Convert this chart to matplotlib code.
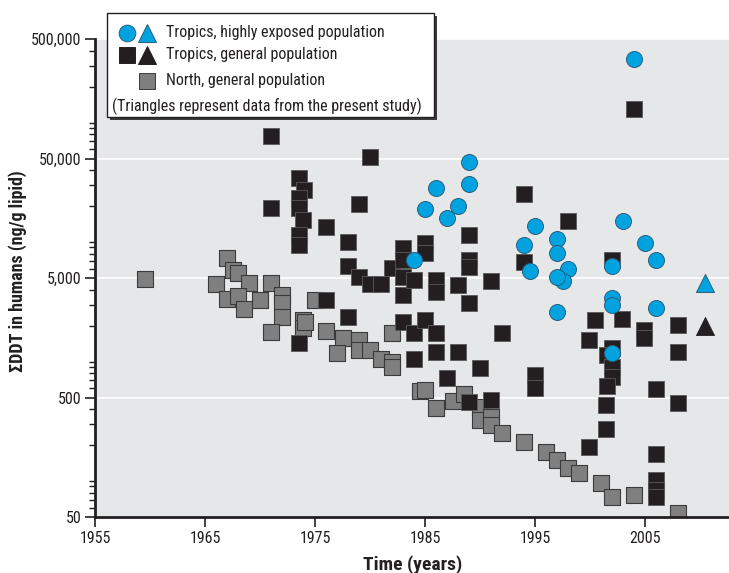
import numpy as np
import matplotlib
matplotlib.use("Agg")
import matplotlib.pyplot as plt
from matplotlib import font_manager
from matplotlib.patches import Rectangle
from matplotlib.ticker import FixedLocator, LogLocator, NullFormatter

# the original uses a condensed face; take one if present, else shrink DejaVu
installed = {f.name for f in font_manager.fontManager.ttflist}
narrow = [n for n in ['Liberation Sans Narrow', 'DejaVu Sans Condensed', 'Roboto Condensed',
                      'Open Sans Condensed'] if n in installed]
if narrow:
    plt.rcParams['font.family'] = [narrow[0], 'DejaVu Sans']
    k = 1.0
else:
    plt.rcParams['font.family'] = ['DejaVu Sans']
    plt.rcParams['font.stretch'] = 'condensed'
    k = 0.8

# Tropics, highly exposed population (circles)
blue_years = [1989.0, 1989.0, 1986.0, 1988.0, 1985.0, 1987.0, 1984.0, 2004.0, 1995.0,
              1994.0, 1997.0, 1997.0, 2003.0, 2005.0, 2006.0, 1994.5, 1998.0, 1997.5,
              1997.0, 2002.0, 2002.0, 2002.0, 1997.0, 2006.0, 2002.0]
blue_vals = [47000, 30400, 28200, 20000, 18800, 16000, 7050, 342000, 13700,
             9440, 10500, 8050, 15000, 9750, 7120, 5740, 5990, 4740,
             5060, 6300, 3420, 2970, 2580, 2790, 1170]

# Tropics, general population (squares)
black_years = [1971.0, 1971.0, 1973.5, 1974.0, 1973.5, 1973.5, 1973.9, 1973.5, 1973.5, 1973.5,
               1980.0, 1979.0, 1976.0, 1978.0, 1978.0, 1979.0, 1980.0, 1981.0, 1982.0, 1983.0,
               1985.0, 1985.0, 1983.0, 1983.0, 1983.0, 1984.0, 1986.0, 1986.0, 1988.0, 1989.0,
               1989.0, 1989.0, 1989.0, 1991.0, 1992.0, 1976.0, 1978.0, 1983.0, 1984.0, 1985.0,
               1986.0, 1984.0, 1986.0, 1988.0, 1990.0, 1987.0, 1989.0, 1991.0, 2004.0, 1994.0,
               1998.0, 1994.0, 2002.0, 2000.4, 2002.9, 2004.9, 2004.9, 2008.0, 1999.9, 2002.0,
               2008.0, 2001.5, 2002.0, 2002.0, 2001.5, 1995.0, 1995.0, 2006.0, 2008.0, 2001.4,
               2001.4, 1999.9, 2006.0, 2006.0, 2006.0, 2006.0]
black_vals = [77100, 19300, 34500, 27200, 23300, 19300, 15300, 11500, 9440, 1430,
              51200, 20700, 13300, 10100, 6300, 5130, 4420, 4420, 6030, 8870,
              9750, 8050, 7080, 5130, 3600, 4810, 4810, 3840, 4370, 11500,
              7080, 6220, 3070, 4700, 1720, 3270, 2370, 2160, 1720, 2230,
              1720, 1050, 1210, 1210, 890, 724, 461, 477, 129800, 25200,
              15000, 6840, 7080, 2230, 2260, 1830, 1560, 2020, 1510, 1290,
              1210, 1130, 905, 746, 624, 771, 597, 590, 453, 433,
              272, 192, 167, 102, 84, 74]

# North, general population (gray squares)
gray_years = [1959.5, 1967.0, 1967.5, 1968.0, 1966.0, 1969.0, 1971.0, 1967.0, 1968.0, 1970.0,
              1968.5, 1972.0, 1972.0, 1972.0, 1971.0, 1973.9, 1973.9, 1975.0, 1974.1, 1976.0,
              1977.5, 1977.0, 1979.0, 1979.0, 1980.0, 1981.0, 1982.0, 1982.0, 1982.0, 1984.5,
              1985.0, 1986.0, 1987.5, 1988.5, 1990.0, 1990.0, 1991.0, 1991.0, 1992.0, 1994.0,
              1996.0, 1997.0, 1998.0, 1999.0, 2001.0, 2002.0, 2004.0, 2008.0]
gray_vals = [4910, 7310, 5830, 5470, 4420, 4520, 4520, 3340, 3550, 3270,
             2730, 3600, 3110, 2370, 1760, 2230, 1910, 3270, 2160, 1790,
             1560, 1170, 1510, 1250, 1250, 1060, 1720, 1000, 905, 570,
             578, 406, 470, 532, 419, 324, 345, 294, 251, 212,
             176, 150, 129, 116, 97, 73, 76, 54]

# present study (triangles)
tri_year = 2010.4
tri_blue_val = 4520
tri_black_val = 1980

y_ticks = [50, 500, 5000, 50000, 500000]
y_ticklabels = ['50', '500', '5,000', '50,000', '500,000']
x_ticks = [1955, 1965, 1975, 1985, 1995, 2005]

BLUE = '#00A3E0'
BLACK = '#231F20'
GRAY = '#7F7F7F'
INK = '#231F20'

W, H = 729, 573
fig = plt.figure(figsize=(W / 100, H / 100), dpi=100)
ax = fig.add_axes([95.3 / W, (H - 517) / H, (W - 95.3) / W, (517 - 39) / H])
ax.set_facecolor('#E6E7E8')

ax.set_yscale('log')
ax.set_xlim(1955, 2012.6)
ax.set_ylim(50, 500000)

for v in y_ticks:
    ax.axhline(v, color='white', lw=1.2, zorder=1)

ax.scatter(gray_years, gray_vals, marker='s', s=12 ** 2, color=GRAY,
           edgecolors='#3a3a3a', linewidths=0.8, zorder=3)
ax.scatter(black_years, black_vals, marker='s', s=12 ** 2, color=BLACK,
           edgecolors='#5a5a5a', linewidths=0.6, zorder=4)
ax.scatter(blue_years, blue_vals, marker='o', s=11.5 ** 2, color=BLUE,
           edgecolors='#2b5f7d', linewidths=0.7, zorder=5)
ax.scatter([tri_year], [tri_blue_val], marker='^', s=13 ** 2, color=BLUE,
           edgecolors='#2b5f7d', linewidths=0.7, zorder=5)
ax.scatter([tri_year], [tri_black_val], marker='^', s=13 ** 2, color=BLACK,
           edgecolors=BLACK, linewidths=0.6, zorder=5)

# axes styling
for side in ['top', 'right']:
    ax.spines[side].set_visible(False)
for side in ['left', 'bottom']:
    ax.spines[side].set_linewidth(2)
    ax.spines[side].set_color(INK)
    ax.spines[side].set_zorder(6)

ax.yaxis.set_major_locator(FixedLocator(y_ticks))
ax.set_yticklabels(y_ticklabels)
ax.yaxis.set_minor_locator(LogLocator(base=10, subs=[1, 2, 3, 4, 6, 7, 8, 9]))
ax.yaxis.set_minor_formatter(NullFormatter())
ax.set_xticks(x_ticks)
ax.tick_params(axis='both', which='major', direction='out', length=7, width=1.2,
               color=INK, labelsize=11.5 * k, labelcolor=INK, pad=3)
ax.tick_params(axis='y', which='minor', direction='out', length=4, width=1.0, color=INK)

ax.set_xlabel('Time (years)', fontsize=14 * k, fontweight='bold', color=INK, labelpad=7)
ax.set_ylabel('ΣDDT in humans (ng/g lipid)', fontsize=13 * k, fontweight='bold', color=INK)
ax.yaxis.set_label_coords(-0.108, 0.515)

# hand-made legend box with drop shadow (figure pixel coords)
def fx(px):
    return px / W

def fy(py):
    return 1 - py / H

bx0, bx1, by0, by1 = 107.3, 434, 13.3, 116.7
ax.add_patch(Rectangle((fx(bx0 + 3), fy(by1 + 3)), fx(bx1 - bx0), (by1 - by0) / H,
                       transform=fig.transFigure, facecolor='#3a3a3a', edgecolor='none',
                       clip_on=False, zorder=10))
ax.add_patch(Rectangle((fx(bx0), fy(by1)), fx(bx1 - bx0), (by1 - by0) / H,
                       transform=fig.transFigure, facecolor='white', edgecolor=INK,
                       lw=1, clip_on=False, zorder=11))

rows = [
    (32.7, [('o', BLUE, 126.7), ('^', BLUE, 147.3)], 'Tropics, highly exposed population'),
    (55.0, [('s', BLACK, 127.3), ('^', BLACK, 147.3)], 'Tropics, general population'),
    (80.7, [('s', GRAY, 147.3)], 'North, general population'),
]
for ry, marks, label in rows:
    for m, c, mx in marks:
        ec = '#2b5f7d' if c == BLUE else ('#3a3a3a' if c == GRAY else c)
        ax.plot([fx(mx)], [fy(ry)], marker=m, ms=13 if m == '^' else 12, color=c,
                markeredgecolor=ec, markeredgewidth=0.7, transform=fig.transFigure,
                clip_on=False, zorder=12, linestyle='none')
    fig.text(fx(166), fy(ry), label, fontsize=11.5 * k, color=INK, va='center',
             ha='left', zorder=12)
fig.text(fx(112), fy(106.7), '(Triangles represent data from the present study)',
         fontsize=11.5 * k, color=INK, va='center', ha='left', zorder=12)

fig.savefig('out.png', dpi=100)
